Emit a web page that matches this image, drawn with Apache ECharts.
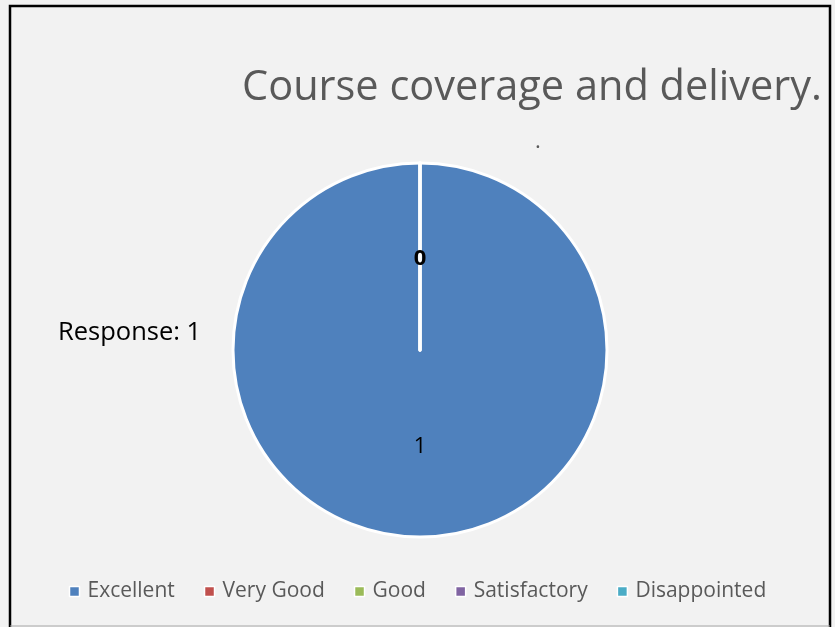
<!DOCTYPE html>
<html>
<head>
<meta charset="utf-8">
<script src="https://cdn.jsdelivr.net/npm/echarts@6/dist/echarts.min.js"></script>
<style>
html,body{margin:0;padding:0;background:#f2f2f2;}
#main{width:835px;height:627px;}
</style>
</head>
<body>
<div id="main"></div>
<script>
var categories = ['Excellent', 'Very Good', 'Good', 'Satisfactory', 'Disappointed'];
var values = [1, 0, 0, 0, 0];
var colors = ['#4f81bd', '#c0504d', '#9bbb59', '#8064a2', '#4bacc6'];
var titleText = 'Course coverage and delivery.';
var subText = '.';
var responseText = 'Response: 1';

var chart = echarts.init(document.getElementById('main'));
var font = '"Open Sans", "Noto Sans", sans-serif';
chart.setOption({
  backgroundColor: '#f2f2f2',
  color: colors,
  animation: false,
  title: [
    {text: titleText, left: 527, top: 62, textAlign: 'center',
     textStyle: {fontFamily: font, fontSize: 41.5, fontWeight: 'normal', color: '#595959'}},
    {text: subText, left: 533, top: 126, textAlign: 'center',
     textStyle: {fontFamily: font, fontSize: 22, fontWeight: 'normal', color: '#595959'}}
  ],
  legend: {
    bottom: 20,
    left: 'center',
    itemWidth: 10,
    itemHeight: 10,
    itemGap: 29,
    icon: 'rect',
    itemStyle: {borderColor: '#ffffff', borderWidth: 1.5},
    textStyle: {fontFamily: font, fontSize: 21, color: '#595959', padding: [0, 0, 0, 3]},
    data: categories
  },
  graphic: [
    {type: 'rect', shape: {x: 10, y: 6, width: 820, height: 640},
     style: {fill: 'none', stroke: '#000000', lineWidth: 2.5}, silent: true},
    {type: 'line', shape: {x1: 10, y1: 626, x2: 830, y2: 626},
     style: {stroke: '#a6a6a6', lineWidth: 1}, silent: true},
    {type: 'text', left: 58, top: 320,
     style: {text: responseText, fontFamily: font, fontSize: 25.5, fill: '#000000'}}
  ],
  series: [{
    type: 'pie',
    center: [420, 350],
    radius: 187,
    startAngle: 90,
    clockwise: true,
    avoidLabelOverlap: false,
    itemStyle: {borderColor: '#ffffff', borderWidth: 3},
    label: {show: true, position: 'inside', formatter: '{c}',
      fontFamily: font, fontSize: 22, color: '#000000'},
    labelLine: {show: false},
    emphasis: {disabled: true},
    data: categories.map(function (c, i) {
      return {name: c, value: values[i],
        label: values[i] === 0 ? {fontWeight: 'bold', offset: [0, 5]} : {}};
    })
  }]
});
</script>
</body>
</html>
